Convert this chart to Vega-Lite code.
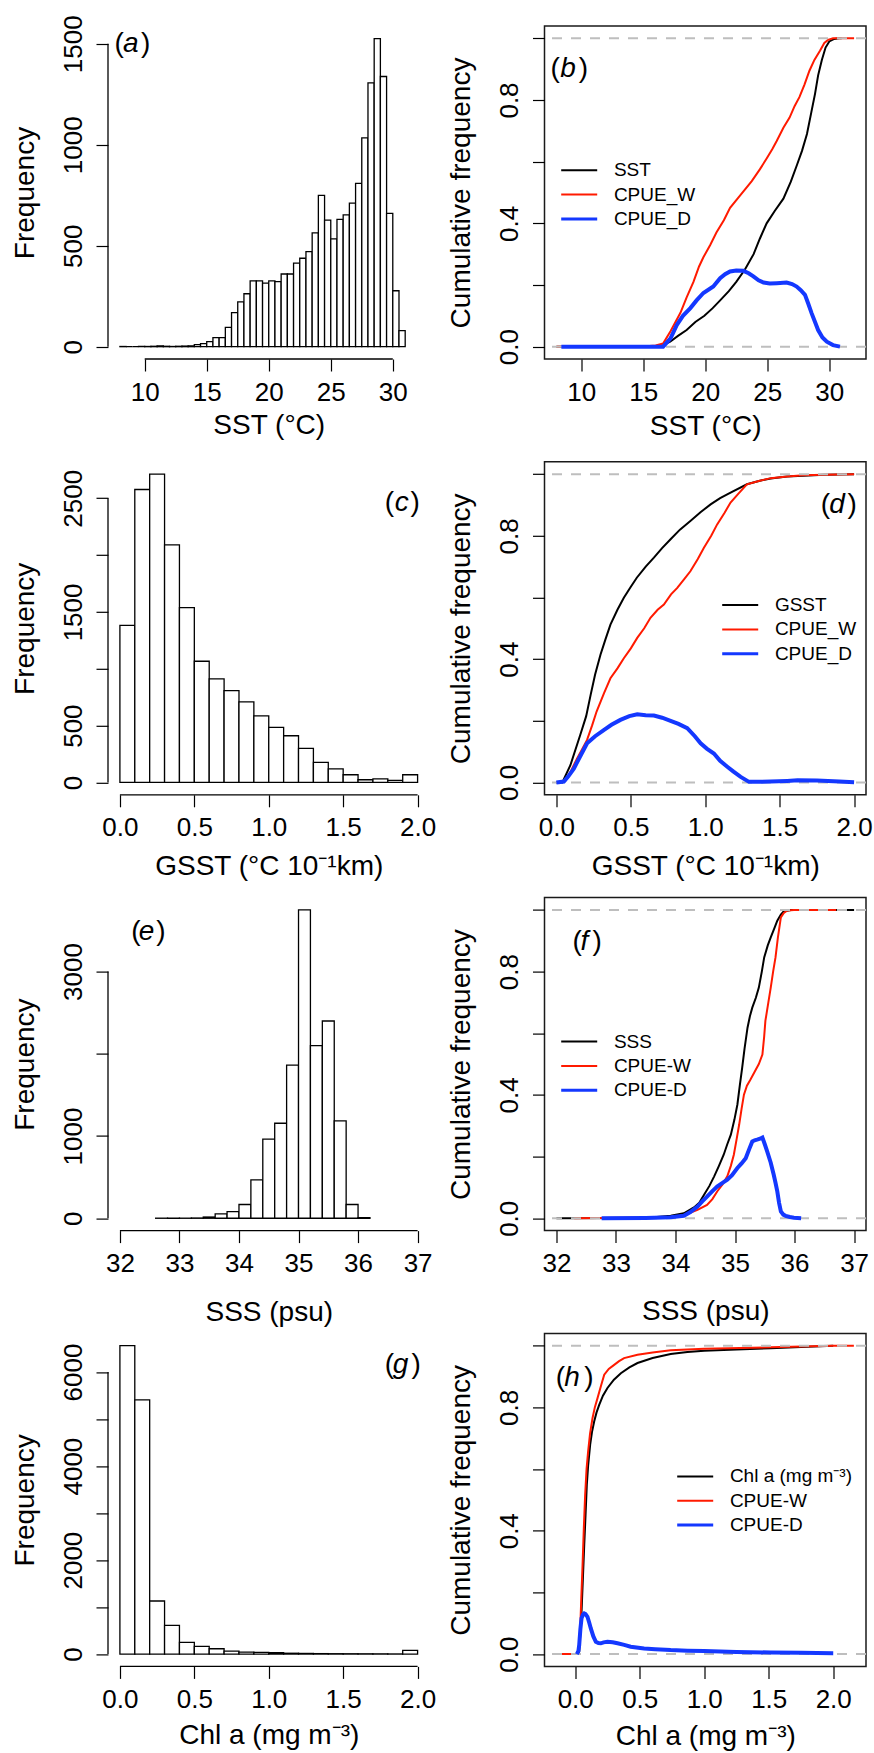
{
"$schema": "https://vega.github.io/schema/vega-lite/v6.json",
"background": "white",
"padding": {"left": 11, "top": 14, "right": 0, "bottom": 0},
"columns": 2,
"spacing": {"row": 102.8, "column": 114.5},
"bounds": "flush",
"resolve": {"scale": {"color": "independent", "x": "independent", "y": "independent"}, "legend": {"color": "independent"}, "axis": {"x": "independent", "y": "independent"}},
"config": {
 "view": {"stroke": null},
 "font": "Liberation Sans",
 "axis": {"domain": false, "grid": false, "tickColor": "#000", "tickSize": 12, "tickWidth": 1.2, "labelFont": "Liberation Sans", "labelFontSize": 26, "labelColor": "#000", "titleFont": "Liberation Sans", "titleFontSize": 28, "titleFontWeight": "normal", "titleColor": "#000", "labelOverlap": false, "labelFlush": false, "labelBound": false},
 "axisX": {"labelBaseline": "alphabetic", "labelPadding": 29, "titleBaseline": "alphabetic", "labelAngle": 0, "labelAlign": "center"},
 "axisY": {"labelAngle": 270, "labelAlign": "center", "labelBaseline": "alphabetic", "labelPadding": 15, "titleAngle": 270, "titleBaseline": "alphabetic", "titleX": -75, "titleAlign": "center"},
 "legend": {"orient": "none", "title": null, "symbolType": "M-3,0H3", "symbolSize": 144, "labelFont": "Liberation Sans", "labelFontSize": 19, "labelColor": "#000", "labelOffset": 25.2, "rowPadding": 4.3, "padding": 0, "symbolStrokeWidth": 2, "labelLimit": 400}
},
"datasets": {
 "histA": [
  {"lo":8.0,"hi":8.5,"n":1},{"lo":8.5,"hi":9.0,"n":0},{"lo":9.0,"hi":9.5,"n":0},{"lo":9.5,"hi":10.0,"n":1},{"lo":10.0,"hi":10.5,"n":1},{"lo":10.5,"hi":11.0,"n":2},{"lo":11.0,"hi":11.5,"n":4},{"lo":11.5,"hi":12.0,"n":2},{"lo":12.0,"hi":12.5,"n":1},{"lo":12.5,"hi":13.0,"n":2},{"lo":13.0,"hi":13.5,"n":3},{"lo":13.5,"hi":14.0,"n":4},{"lo":14.0,"hi":14.5,"n":10},{"lo":14.5,"hi":15.0,"n":15},{"lo":15.0,"hi":15.5,"n":25},{"lo":15.5,"hi":16.0,"n":45},{"lo":16.0,"hi":16.5,"n":45},{"lo":16.5,"hi":17.0,"n":96},{"lo":17.0,"hi":17.5,"n":169},{"lo":17.5,"hi":18.0,"n":222},{"lo":18.0,"hi":18.5,"n":262},{"lo":18.5,"hi":19.0,"n":326},{"lo":19.0,"hi":19.5,"n":326},{"lo":19.5,"hi":20.0,"n":315},{"lo":20.0,"hi":20.5,"n":326},{"lo":20.5,"hi":21.0,"n":322},{"lo":21.0,"hi":21.5,"n":360},{"lo":21.5,"hi":22.0,"n":360},{"lo":22.0,"hi":22.5,"n":414},{"lo":22.5,"hi":23.0,"n":438},{"lo":23.0,"hi":23.5,"n":471},{"lo":23.5,"hi":24.0,"n":564},{"lo":24.0,"hi":24.5,"n":749},{"lo":24.5,"hi":25.0,"n":627},{"lo":25.0,"hi":25.5,"n":534},{"lo":25.5,"hi":26.0,"n":630},{"lo":26.0,"hi":26.5,"n":653},{"lo":26.5,"hi":27.0,"n":711},{"lo":27.0,"hi":27.5,"n":809},{"lo":27.5,"hi":28.0,"n":1034},{"lo":28.0,"hi":28.5,"n":1306},{"lo":28.5,"hi":29.0,"n":1525},{"lo":29.0,"hi":29.5,"n":1338},{"lo":29.5,"hi":30.0,"n":660},{"lo":30.0,"hi":30.5,"n":277},{"lo":30.5,"hi":31.0,"n":80}
 ],
 "histC": [
  {"lo":0.0,"hi":0.1,"n":1381},{"lo":0.1,"hi":0.2,"n":2577},{"lo":0.2,"hi":0.3,"n":2712},{"lo":0.3,"hi":0.4,"n":2089},{"lo":0.4,"hi":0.5,"n":1537},{"lo":0.5,"hi":0.6,"n":1066},{"lo":0.6,"hi":0.7,"n":911},{"lo":0.7,"hi":0.8,"n":808},{"lo":0.8,"hi":0.9,"n":708},{"lo":0.9,"hi":1.0,"n":585},{"lo":1.0,"hi":1.1,"n":485},{"lo":1.1,"hi":1.2,"n":411},{"lo":1.2,"hi":1.3,"n":300},{"lo":1.3,"hi":1.4,"n":176},{"lo":1.4,"hi":1.5,"n":120},{"lo":1.5,"hi":1.6,"n":68},{"lo":1.6,"hi":1.7,"n":24},{"lo":1.7,"hi":1.8,"n":32},{"lo":1.8,"hi":1.9,"n":18},{"lo":1.9,"hi":2.0,"n":68}
 ],
 "histE": [
  {"lo":32.6,"hi":32.8,"n":1},{"lo":32.8,"hi":33.0,"n":1},{"lo":33.0,"hi":33.2,"n":1},{"lo":33.2,"hi":33.4,"n":3},{"lo":33.4,"hi":33.6,"n":15},{"lo":33.6,"hi":33.8,"n":53},{"lo":33.8,"hi":34.0,"n":81},{"lo":34.0,"hi":34.2,"n":167},{"lo":34.2,"hi":34.4,"n":467},{"lo":34.4,"hi":34.6,"n":963},{"lo":34.6,"hi":34.8,"n":1155},{"lo":34.8,"hi":35.0,"n":1862},{"lo":35.0,"hi":35.2,"n":3748},{"lo":35.2,"hi":35.4,"n":2098},{"lo":35.4,"hi":35.6,"n":2398},{"lo":35.6,"hi":35.8,"n":1183},{"lo":35.8,"hi":36.0,"n":167},{"lo":36.0,"hi":36.2,"n":8}
 ],
 "histG": [
  {"lo":0.0,"hi":0.1,"n":6561},{"lo":0.1,"hi":0.2,"n":5410},{"lo":0.2,"hi":0.3,"n":1129},{"lo":0.3,"hi":0.4,"n":611},{"lo":0.4,"hi":0.5,"n":250},{"lo":0.5,"hi":0.6,"n":163},{"lo":0.6,"hi":0.7,"n":114},{"lo":0.7,"hi":0.8,"n":64},{"lo":0.8,"hi":0.9,"n":43},{"lo":0.9,"hi":1.0,"n":36},{"lo":1.0,"hi":1.1,"n":28},{"lo":1.1,"hi":1.2,"n":18},{"lo":1.2,"hi":1.3,"n":14},{"lo":1.3,"hi":1.4,"n":10},{"lo":1.4,"hi":1.5,"n":8},{"lo":1.5,"hi":1.6,"n":7},{"lo":1.6,"hi":1.7,"n":6},{"lo":1.7,"hi":1.8,"n":5},{"lo":1.8,"hi":1.9,"n":3},{"lo":1.9,"hi":2.0,"n":78}
 ],
 "cdfB": [
  {"s":"SST","x":8.0,"y":0},{"s":"SST","x":16.0,"y":0},{"s":"SST","x":16.6,"y":0.005},{"s":"SST","x":17.17,"y":0.016},{"s":"SST","x":17.8,"y":0.035},{"s":"SST","x":18.5,"y":0.054},{"s":"SST","x":19.2,"y":0.08},{"s":"SST","x":19.93,"y":0.10},{"s":"SST","x":20.6,"y":0.125},{"s":"SST","x":21.2,"y":0.15},{"s":"SST","x":21.9,"y":0.18},{"s":"SST","x":22.5,"y":0.21},{"s":"SST","x":23.2,"y":0.25},{"s":"SST","x":23.9,"y":0.30},{"s":"SST","x":24.4,"y":0.35},{"s":"SST","x":24.95,"y":0.40},{"s":"SST","x":25.6,"y":0.44},{"s":"SST","x":26.3,"y":0.48},{"s":"SST","x":26.9,"y":0.535},{"s":"SST","x":27.4,"y":0.59},{"s":"SST","x":27.8,"y":0.635},{"s":"SST","x":28.2,"y":0.69},{"s":"SST","x":28.55,"y":0.76},{"s":"SST","x":28.85,"y":0.82},{"s":"SST","x":29.1,"y":0.88},{"s":"SST","x":29.4,"y":0.93},{"s":"SST","x":29.7,"y":0.97},{"s":"SST","x":30.0,"y":0.99},{"s":"SST","x":30.4,"y":0.998},{"s":"SST","x":30.8,"y":1.0},{"s":"SST","x":31.0,"y":1.0},
  {"s":"CPUE_W","x":8.0,"y":0},{"s":"CPUE_W","x":15.5,"y":0.002},{"s":"CPUE_W","x":16.0,"y":0.004},{"s":"CPUE_W","x":16.6,"y":0.01},{"s":"CPUE_W","x":17.2,"y":0.05},{"s":"CPUE_W","x":17.6,"y":0.08},{"s":"CPUE_W","x":18.0,"y":0.11},{"s":"CPUE_W","x":18.5,"y":0.16},{"s":"CPUE_W","x":19.05,"y":0.21},{"s":"CPUE_W","x":19.5,"y":0.26},{"s":"CPUE_W","x":19.85,"y":0.29},{"s":"CPUE_W","x":20.4,"y":0.33},{"s":"CPUE_W","x":20.9,"y":0.37},{"s":"CPUE_W","x":21.5,"y":0.41},{"s":"CPUE_W","x":22.0,"y":0.45},{"s":"CPUE_W","x":22.8,"y":0.49},{"s":"CPUE_W","x":23.75,"y":0.537},{"s":"CPUE_W","x":24.4,"y":0.575},{"s":"CPUE_W","x":24.95,"y":0.61},{"s":"CPUE_W","x":25.4,"y":0.64},{"s":"CPUE_W","x":25.76,"y":0.667},{"s":"CPUE_W","x":26.3,"y":0.71},{"s":"CPUE_W","x":26.8,"y":0.743},{"s":"CPUE_W","x":27.2,"y":0.78},{"s":"CPUE_W","x":27.6,"y":0.81},{"s":"CPUE_W","x":28.0,"y":0.85},{"s":"CPUE_W","x":28.4,"y":0.895},{"s":"CPUE_W","x":28.8,"y":0.93},{"s":"CPUE_W","x":29.25,"y":0.96},{"s":"CPUE_W","x":29.6,"y":0.985},{"s":"CPUE_W","x":29.9,"y":0.995},{"s":"CPUE_W","x":30.3,"y":1.0},{"s":"CPUE_W","x":32.0,"y":1.0},
  {"s":"CPUE_D","x":8.4,"y":0},{"s":"CPUE_D","x":16.6,"y":0},{"s":"CPUE_D","x":17.2,"y":0.027},{"s":"CPUE_D","x":17.7,"y":0.07},{"s":"CPUE_D","x":18.2,"y":0.10},{"s":"CPUE_D","x":18.8,"y":0.125},{"s":"CPUE_D","x":19.3,"y":0.15},{"s":"CPUE_D","x":19.85,"y":0.174},{"s":"CPUE_D","x":20.65,"y":0.195},{"s":"CPUE_D","x":21.2,"y":0.222},{"s":"CPUE_D","x":21.6,"y":0.235},{"s":"CPUE_D","x":22.0,"y":0.244},{"s":"CPUE_D","x":22.5,"y":0.247},{"s":"CPUE_D","x":23.07,"y":0.246},{"s":"CPUE_D","x":23.5,"y":0.238},{"s":"CPUE_D","x":23.88,"y":0.228},{"s":"CPUE_D","x":24.3,"y":0.215},{"s":"CPUE_D","x":24.7,"y":0.208},{"s":"CPUE_D","x":25.2,"y":0.205},{"s":"CPUE_D","x":25.76,"y":0.206},{"s":"CPUE_D","x":26.56,"y":0.208},{"s":"CPUE_D","x":27.0,"y":0.203},{"s":"CPUE_D","x":27.37,"y":0.195},{"s":"CPUE_D","x":27.7,"y":0.183},{"s":"CPUE_D","x":28.04,"y":0.168},{"s":"CPUE_D","x":28.3,"y":0.14},{"s":"CPUE_D","x":28.58,"y":0.108},{"s":"CPUE_D","x":28.85,"y":0.08},{"s":"CPUE_D","x":29.1,"y":0.054},{"s":"CPUE_D","x":29.45,"y":0.03},{"s":"CPUE_D","x":29.8,"y":0.016},{"s":"CPUE_D","x":30.3,"y":0.005},{"s":"CPUE_D","x":30.86,"y":0}
 ],
 "cdfD": [
  {"s":"GSST","x":0,"y":0},{"s":"GSST","x":0.04,"y":0.0},{"s":"GSST","x":0.094,"y":0.056},{"s":"GSST","x":0.16,"y":0.154},{"s":"GSST","x":0.2,"y":0.215},{"s":"GSST","x":0.23,"y":0.284},{"s":"GSST","x":0.26,"y":0.35},{"s":"GSST","x":0.296,"y":0.414},{"s":"GSST","x":0.33,"y":0.465},{"s":"GSST","x":0.363,"y":0.512},{"s":"GSST","x":0.41,"y":0.56},{"s":"GSST","x":0.453,"y":0.599},{"s":"GSST","x":0.5,"y":0.635},{"s":"GSST","x":0.54,"y":0.664},{"s":"GSST","x":0.6,"y":0.7},{"s":"GSST","x":0.655,"y":0.729},{"s":"GSST","x":0.71,"y":0.76},{"s":"GSST","x":0.767,"y":0.789},{"s":"GSST","x":0.83,"y":0.82},{"s":"GSST","x":0.9,"y":0.848},{"s":"GSST","x":0.97,"y":0.877},{"s":"GSST","x":1.036,"y":0.902},{"s":"GSST","x":1.1,"y":0.922},{"s":"GSST","x":1.17,"y":0.94},{"s":"GSST","x":1.28,"y":0.967},{"s":"GSST","x":1.36,"y":0.978},{"s":"GSST","x":1.44,"y":0.986},{"s":"GSST","x":1.55,"y":0.992},{"s":"GSST","x":1.66,"y":0.995},{"s":"GSST","x":1.8,"y":0.998},{"s":"GSST","x":2.0,"y":1.0},
  {"s":"CPUE_W","x":0,"y":0},{"s":"CPUE_W","x":0.06,"y":0.005},{"s":"CPUE_W","x":0.1,"y":0.04},{"s":"CPUE_W","x":0.139,"y":0.078},{"s":"CPUE_W","x":0.17,"y":0.105},{"s":"CPUE_W","x":0.206,"y":0.138},{"s":"CPUE_W","x":0.24,"y":0.185},{"s":"CPUE_W","x":0.27,"y":0.23},{"s":"CPUE_W","x":0.32,"y":0.29},{"s":"CPUE_W","x":0.363,"y":0.338},{"s":"CPUE_W","x":0.41,"y":0.37},{"s":"CPUE_W","x":0.453,"y":0.403},{"s":"CPUE_W","x":0.5,"y":0.435},{"s":"CPUE_W","x":0.543,"y":0.469},{"s":"CPUE_W","x":0.59,"y":0.5},{"s":"CPUE_W","x":0.632,"y":0.534},{"s":"CPUE_W","x":0.68,"y":0.56},{"s":"CPUE_W","x":0.722,"y":0.577},{"s":"CPUE_W","x":0.77,"y":0.61},{"s":"CPUE_W","x":0.812,"y":0.631},{"s":"CPUE_W","x":0.86,"y":0.66},{"s":"CPUE_W","x":0.9,"y":0.685},{"s":"CPUE_W","x":0.95,"y":0.725},{"s":"CPUE_W","x":0.991,"y":0.761},{"s":"CPUE_W","x":1.04,"y":0.8},{"s":"CPUE_W","x":1.08,"y":0.837},{"s":"CPUE_W","x":1.13,"y":0.875},{"s":"CPUE_W","x":1.17,"y":0.908},{"s":"CPUE_W","x":1.22,"y":0.935},{"s":"CPUE_W","x":1.28,"y":0.967},{"s":"CPUE_W","x":1.36,"y":0.978},{"s":"CPUE_W","x":1.44,"y":0.987},{"s":"CPUE_W","x":1.55,"y":0.992},{"s":"CPUE_W","x":1.66,"y":0.996},{"s":"CPUE_W","x":1.8,"y":0.998},{"s":"CPUE_W","x":2.0,"y":1.0},
  {"s":"CPUE_D","x":0,"y":0},{"s":"CPUE_D","x":0.05,"y":0.003},{"s":"CPUE_D","x":0.08,"y":0.02},{"s":"CPUE_D","x":0.117,"y":0.045},{"s":"CPUE_D","x":0.16,"y":0.085},{"s":"CPUE_D","x":0.206,"y":0.127},{"s":"CPUE_D","x":0.26,"y":0.15},{"s":"CPUE_D","x":0.318,"y":0.17},{"s":"CPUE_D","x":0.37,"y":0.187},{"s":"CPUE_D","x":0.43,"y":0.203},{"s":"CPUE_D","x":0.49,"y":0.215},{"s":"CPUE_D","x":0.543,"y":0.221},{"s":"CPUE_D","x":0.6,"y":0.218},{"s":"CPUE_D","x":0.655,"y":0.217},{"s":"CPUE_D","x":0.71,"y":0.21},{"s":"CPUE_D","x":0.767,"y":0.2},{"s":"CPUE_D","x":0.82,"y":0.19},{"s":"CPUE_D","x":0.879,"y":0.176},{"s":"CPUE_D","x":0.93,"y":0.15},{"s":"CPUE_D","x":0.969,"y":0.127},{"s":"CPUE_D","x":1.01,"y":0.11},{"s":"CPUE_D","x":1.058,"y":0.094},{"s":"CPUE_D","x":1.1,"y":0.07},{"s":"CPUE_D","x":1.148,"y":0.051},{"s":"CPUE_D","x":1.19,"y":0.035},{"s":"CPUE_D","x":1.238,"y":0.018},{"s":"CPUE_D","x":1.294,"y":0.002},{"s":"CPUE_D","x":1.35,"y":0.002},{"s":"CPUE_D","x":1.44,"y":0.003},{"s":"CPUE_D","x":1.55,"y":0.005},{"s":"CPUE_D","x":1.62,"y":0.007},{"s":"CPUE_D","x":1.75,"y":0.006},{"s":"CPUE_D","x":1.9,"y":0.003},{"s":"CPUE_D","x":2.0,"y":0.001}
 ],
 "cdfF": [
  {"s":"SSS","x":32.0,"y":0},{"s":"SSS","x":33.5,"y":0.001},{"s":"SSS","x":33.92,"y":0.008},{"s":"SSS","x":34.14,"y":0.016},{"s":"SSS","x":34.31,"y":0.035},{"s":"SSS","x":34.4,"y":0.05},{"s":"SSS","x":34.48,"y":0.076},{"s":"SSS","x":34.57,"y":0.105},{"s":"SSS","x":34.65,"y":0.136},{"s":"SSS","x":34.73,"y":0.17},{"s":"SSS","x":34.81,"y":0.206},{"s":"SSS","x":34.87,"y":0.24},{"s":"SSS","x":34.93,"y":0.271},{"s":"SSS","x":34.99,"y":0.32},{"s":"SSS","x":35.04,"y":0.369},{"s":"SSS","x":35.08,"y":0.43},{"s":"SSS","x":35.12,"y":0.488},{"s":"SSS","x":35.16,"y":0.55},{"s":"SSS","x":35.21,"y":0.618},{"s":"SSS","x":35.25,"y":0.655},{"s":"SSS","x":35.29,"y":0.683},{"s":"SSS","x":35.35,"y":0.715},{"s":"SSS","x":35.4,"y":0.748},{"s":"SSS","x":35.45,"y":0.8},{"s":"SSS","x":35.49,"y":0.846},{"s":"SSS","x":35.55,"y":0.885},{"s":"SSS","x":35.6,"y":0.911},{"s":"SSS","x":35.66,"y":0.94},{"s":"SSS","x":35.71,"y":0.965},{"s":"SSS","x":35.77,"y":0.985},{"s":"SSS","x":35.82,"y":0.996},{"s":"SSS","x":35.94,"y":1.0},{"s":"SSS","x":37.0,"y":1.0},
  {"s":"CPUE-W","x":32.3,"y":0},{"s":"CPUE-W","x":33.9,"y":0.003},{"s":"CPUE-W","x":34.14,"y":0.01},{"s":"CPUE-W","x":34.37,"y":0.027},{"s":"CPUE-W","x":34.53,"y":0.043},{"s":"CPUE-W","x":34.62,"y":0.062},{"s":"CPUE-W","x":34.7,"y":0.087},{"s":"CPUE-W","x":34.79,"y":0.11},{"s":"CPUE-W","x":34.87,"y":0.136},{"s":"CPUE-W","x":34.93,"y":0.17},{"s":"CPUE-W","x":34.98,"y":0.206},{"s":"CPUE-W","x":35.03,"y":0.26},{"s":"CPUE-W","x":35.07,"y":0.304},{"s":"CPUE-W","x":35.11,"y":0.355},{"s":"CPUE-W","x":35.15,"y":0.401},{"s":"CPUE-W","x":35.2,"y":0.43},{"s":"CPUE-W","x":35.26,"y":0.45},{"s":"CPUE-W","x":35.33,"y":0.475},{"s":"CPUE-W","x":35.4,"y":0.5},{"s":"CPUE-W","x":35.46,"y":0.531},{"s":"CPUE-W","x":35.49,"y":0.59},{"s":"CPUE-W","x":35.51,"y":0.64},{"s":"CPUE-W","x":35.56,"y":0.7},{"s":"CPUE-W","x":35.6,"y":0.748},{"s":"CPUE-W","x":35.64,"y":0.8},{"s":"CPUE-W","x":35.68,"y":0.846},{"s":"CPUE-W","x":35.72,"y":0.91},{"s":"CPUE-W","x":35.77,"y":0.976},{"s":"CPUE-W","x":35.82,"y":0.99},{"s":"CPUE-W","x":35.88,"y":0.998},{"s":"CPUE-W","x":35.99,"y":1.0},{"s":"CPUE-W","x":36.7,"y":1.0},
  {"s":"CPUE-D","x":32.76,"y":0},{"s":"CPUE-D","x":33.5,"y":0.001},{"s":"CPUE-D","x":33.92,"y":0.003},{"s":"CPUE-D","x":34.14,"y":0.008},{"s":"CPUE-D","x":34.25,"y":0.02},{"s":"CPUE-D","x":34.37,"y":0.038},{"s":"CPUE-D","x":34.45,"y":0.055},{"s":"CPUE-D","x":34.53,"y":0.07},{"s":"CPUE-D","x":34.62,"y":0.088},{"s":"CPUE-D","x":34.7,"y":0.103},{"s":"CPUE-D","x":34.79,"y":0.115},{"s":"CPUE-D","x":34.87,"y":0.125},{"s":"CPUE-D","x":34.95,"y":0.14},{"s":"CPUE-D","x":35.04,"y":0.163},{"s":"CPUE-D","x":35.11,"y":0.178},{"s":"CPUE-D","x":35.18,"y":0.195},{"s":"CPUE-D","x":35.24,"y":0.225},{"s":"CPUE-D","x":35.29,"y":0.249},{"s":"CPUE-D","x":35.33,"y":0.253},{"s":"CPUE-D","x":35.37,"y":0.255},{"s":"CPUE-D","x":35.42,"y":0.258},{"s":"CPUE-D","x":35.46,"y":0.262},{"s":"CPUE-D","x":35.5,"y":0.24},{"s":"CPUE-D","x":35.54,"y":0.217},{"s":"CPUE-D","x":35.6,"y":0.18},{"s":"CPUE-D","x":35.65,"y":0.141},{"s":"CPUE-D","x":35.68,"y":0.115},{"s":"CPUE-D","x":35.71,"y":0.087},{"s":"CPUE-D","x":35.74,"y":0.05},{"s":"CPUE-D","x":35.77,"y":0.022},{"s":"CPUE-D","x":35.81,"y":0.012},{"s":"CPUE-D","x":35.85,"y":0.008},{"s":"CPUE-D","x":35.92,"y":0.004},{"s":"CPUE-D","x":35.99,"y":0.002},{"s":"CPUE-D","x":36.11,"y":0}
 ],
 "cdfH": [
  {"s":"Chl a (mg m⁻³)","x":0.02,"y":0},{"s":"Chl a (mg m⁻³)","x":0.031,"y":0.008},{"s":"Chl a (mg m⁻³)","x":0.04,"y":0.07},{"s":"Chl a (mg m⁻³)","x":0.049,"y":0.137},{"s":"Chl a (mg m⁻³)","x":0.06,"y":0.25},{"s":"Chl a (mg m⁻³)","x":0.07,"y":0.354},{"s":"Chl a (mg m⁻³)","x":0.08,"y":0.45},{"s":"Chl a (mg m⁻³)","x":0.09,"y":0.549},{"s":"Chl a (mg m⁻³)","x":0.1,"y":0.61},{"s":"Chl a (mg m⁻³)","x":0.116,"y":0.679},{"s":"Chl a (mg m⁻³)","x":0.13,"y":0.72},{"s":"Chl a (mg m⁻³)","x":0.147,"y":0.754},{"s":"Chl a (mg m⁻³)","x":0.165,"y":0.783},{"s":"Chl a (mg m⁻³)","x":0.186,"y":0.808},{"s":"Chl a (mg m⁻³)","x":0.215,"y":0.838},{"s":"Chl a (mg m⁻³)","x":0.25,"y":0.863},{"s":"Chl a (mg m⁻³)","x":0.3,"y":0.89},{"s":"Chl a (mg m⁻³)","x":0.354,"y":0.911},{"s":"Chl a (mg m⁻³)","x":0.42,"y":0.93},{"s":"Chl a (mg m⁻³)","x":0.483,"y":0.944},{"s":"Chl a (mg m⁻³)","x":0.6,"y":0.96},{"s":"Chl a (mg m⁻³)","x":0.74,"y":0.973},{"s":"Chl a (mg m⁻³)","x":0.87,"y":0.98},{"s":"Chl a (mg m⁻³)","x":1.0,"y":0.984},{"s":"Chl a (mg m⁻³)","x":1.25,"y":0.988},{"s":"Chl a (mg m⁻³)","x":1.515,"y":0.992},{"s":"Chl a (mg m⁻³)","x":1.75,"y":0.996},{"s":"Chl a (mg m⁻³)","x":2.0,"y":1.0},
  {"s":"CPUE-W","x":-0.15,"y":0},{"s":"CPUE-W","x":0.018,"y":0},{"s":"CPUE-W","x":0.03,"y":0.03},{"s":"CPUE-W","x":0.039,"y":0.083},{"s":"CPUE-W","x":0.047,"y":0.18},{"s":"CPUE-W","x":0.057,"y":0.289},{"s":"CPUE-W","x":0.067,"y":0.41},{"s":"CPUE-W","x":0.077,"y":0.516},{"s":"CPUE-W","x":0.088,"y":0.6},{"s":"CPUE-W","x":0.1,"y":0.657},{"s":"CPUE-W","x":0.115,"y":0.715},{"s":"CPUE-W","x":0.134,"y":0.765},{"s":"CPUE-W","x":0.152,"y":0.8},{"s":"CPUE-W","x":0.173,"y":0.83},{"s":"CPUE-W","x":0.2,"y":0.87},{"s":"CPUE-W","x":0.225,"y":0.906},{"s":"CPUE-W","x":0.26,"y":0.925},{"s":"CPUE-W","x":0.302,"y":0.938},{"s":"CPUE-W","x":0.34,"y":0.95},{"s":"CPUE-W","x":0.379,"y":0.96},{"s":"CPUE-W","x":0.483,"y":0.971},{"s":"CPUE-W","x":0.6,"y":0.978},{"s":"CPUE-W","x":0.74,"y":0.985},{"s":"CPUE-W","x":1.0,"y":0.99},{"s":"CPUE-W","x":1.515,"y":0.995},{"s":"CPUE-W","x":2.0,"y":1.0},{"s":"CPUE-W","x":2.16,"y":1.0},
  {"s":"CPUE-D","x":0.013,"y":0},{"s":"CPUE-D","x":0.025,"y":0.01},{"s":"CPUE-D","x":0.031,"y":0.029},{"s":"CPUE-D","x":0.04,"y":0.08},{"s":"CPUE-D","x":0.049,"y":0.116},{"s":"CPUE-D","x":0.06,"y":0.128},{"s":"CPUE-D","x":0.07,"y":0.132},{"s":"CPUE-D","x":0.08,"y":0.13},{"s":"CPUE-D","x":0.095,"y":0.121},{"s":"CPUE-D","x":0.11,"y":0.1},{"s":"CPUE-D","x":0.121,"y":0.083},{"s":"CPUE-D","x":0.14,"y":0.058},{"s":"CPUE-D","x":0.16,"y":0.04},{"s":"CPUE-D","x":0.18,"y":0.036},{"s":"CPUE-D","x":0.199,"y":0.035},{"s":"CPUE-D","x":0.22,"y":0.038},{"s":"CPUE-D","x":0.25,"y":0.04},{"s":"CPUE-D","x":0.29,"y":0.038},{"s":"CPUE-D","x":0.328,"y":0.035},{"s":"CPUE-D","x":0.38,"y":0.03},{"s":"CPUE-D","x":0.43,"y":0.024},{"s":"CPUE-D","x":0.534,"y":0.018},{"s":"CPUE-D","x":0.62,"y":0.016},{"s":"CPUE-D","x":0.74,"y":0.013},{"s":"CPUE-D","x":0.87,"y":0.011},{"s":"CPUE-D","x":1.0,"y":0.01},{"s":"CPUE-D","x":1.25,"y":0.007},{"s":"CPUE-D","x":1.515,"y":0.005},{"s":"CPUE-D","x":1.75,"y":0.004},{"s":"CPUE-D","x":2.0,"y":0.003}
 ]
},
"concat": [
 {"width": 321.5, "height": 333, "layer": [
  {"data": {"name": "histA"}, "mark": {"type": "rect", "fill": "white", "stroke": "black", "strokeWidth": 1.3},
   "encoding": {
    "x": {"field": "lo", "type": "quantitative", "scale": {"domain": [7.04, 32.96], "nice": false, "zero": false}, "axis": {"values": [10,15,20,25,30], "format": "d", "title": "SST (°C)", "titleY": 74}},
    "x2": {"field": "hi"},
    "y": {"field": "n", "type": "quantitative", "scale": {"domain": [-61, 1588], "nice": false, "zero": false}, "axis": {"values": [0,500,1000,1500], "format": "d", "title": "Frequency"}},
    "y2": {"datum": 0}}},
  {"data": {"values": [{}]}, "mark": {"type": "rule", "stroke": "black", "strokeWidth": 1.3}, "encoding": {"x": {"datum": 10}, "x2": {"datum": 30}, "y": {"datum": -61}}},
  {"data": {"values": [{}]}, "mark": {"type": "rule", "stroke": "black", "strokeWidth": 1.3}, "encoding": {"y": {"datum": 0}, "y2": {"datum": 1500}, "x": {"datum": 7.04}}},
  {"data": {"values": [{}]}, "mark": {"type": "text", "text": "(", "align": "left", "baseline": "middle", "fontSize": 28, "font": "Liberation Sans"}, "encoding": {"x": {"datum": 7.56}, "y": {"datum": 1500}}},
  {"data": {"values": [{}]}, "mark": {"type": "text", "text": "a", "fontStyle": "italic", "dx": 8.5, "align": "left", "baseline": "middle", "fontSize": 28, "font": "Liberation Sans"}, "encoding": {"x": {"datum": 7.56}, "y": {"datum": 1500}}},
  {"data": {"values": [{}]}, "mark": {"type": "text", "text": ")", "dx": 26.5, "align": "left", "baseline": "middle", "fontSize": 28, "font": "Liberation Sans"}, "encoding": {"x": {"datum": 7.56}, "y": {"datum": 1500}}}
 ]},
 {"width": 321.5, "height": 333, "view": {"stroke": "#1a1a1a", "strokeWidth": 1.5}, "layer": [
  {"data": {"name": "cdfB"}, "transform": [{"filter": "datum.s == 'SST'"}], "mark": {"type": "line", "strokeWidth": 2},
   "encoding": {
    "x": {"field": "x", "type": "quantitative", "scale": {"domain": [7.04, 32.96], "nice": false, "zero": false}, "axis": {"values": [10,15,20,25,30], "format": "d", "title": "SST (°C)", "titleY": 75}},
    "y": {"field": "y", "type": "quantitative", "scale": {"domain": [-0.04, 1.04], "nice": false, "zero": false}, "axis": {"values": [0,0.2,0.4,0.6,0.8,1], "labelExpr": "datum.value == 0 || datum.value == 0.4 || datum.value == 0.8 ? format(datum.value, '.1f') : ''", "title": "Cumulative frequency"}},
    "color": {"field": "s", "type": "nominal", "scale": {"domain": ["SST","CPUE_W","CPUE_D"], "range": ["#000000","#ff1a00","#1438ff"]}, "legend": {"legendX": 25.2, "legendY": 134.8, "encode": {"symbols": {"update": {"strokeWidth": {"signal": "datum.value == 'CPUE_D' ? 3 : 2"}}}}}}}},
  {"data": {"name": "cdfB"}, "transform": [{"filter": "datum.s == 'CPUE_W'"}], "mark": {"type": "line", "strokeWidth": 2},
   "encoding": {"x": {"field": "x", "type": "quantitative"}, "y": {"field": "y", "type": "quantitative"},
    "color": {"field": "s", "type": "nominal", "scale": {"domain": ["SST","CPUE_W","CPUE_D"], "range": ["#000000","#ff1a00","#1438ff"]}, "legend": {"legendX": 25.2, "legendY": 134.8, "encode": {"symbols": {"update": {"strokeWidth": {"signal": "datum.value == 'CPUE_D' ? 3 : 2"}}}}}}}},
  {"data": {"values": [{}]}, "mark": {"type": "rule", "stroke": "#bebebe", "strokeWidth": 2, "strokeDash": [10, 9]}, "encoding": {"y": {"datum": 0}}},
  {"data": {"values": [{}]}, "mark": {"type": "rule", "stroke": "#bebebe", "strokeWidth": 2, "strokeDash": [10, 9]}, "encoding": {"y": {"datum": 1}}},
  {"data": {"name": "cdfB"}, "transform": [{"filter": "datum.s == 'CPUE_D'"}], "mark": {"type": "line", "strokeWidth": 4},
   "encoding": {"x": {"field": "x", "type": "quantitative"}, "y": {"field": "y", "type": "quantitative"},
    "color": {"field": "s", "type": "nominal", "scale": {"domain": ["SST","CPUE_W","CPUE_D"], "range": ["#000000","#ff1a00","#1438ff"]}, "legend": {"legendX": 25.2, "legendY": 134.8, "encode": {"symbols": {"update": {"strokeWidth": {"signal": "datum.value == 'CPUE_D' ? 3 : 2"}}}}}}}},
  {"data": {"values": [{}]}, "mark": {"type": "text", "text": "(", "align": "left", "baseline": "middle", "fontSize": 28, "font": "Liberation Sans"}, "encoding": {"x": {"datum": 7.52}, "y": {"datum": 0.9}}},
  {"data": {"values": [{}]}, "mark": {"type": "text", "text": "b", "fontStyle": "italic", "dx": 9.7, "align": "left", "baseline": "middle", "fontSize": 28, "font": "Liberation Sans"}, "encoding": {"x": {"datum": 7.52}, "y": {"datum": 0.9}}},
  {"data": {"values": [{}]}, "mark": {"type": "text", "text": ")", "dx": 28.4, "align": "left", "baseline": "middle", "fontSize": 28, "font": "Liberation Sans"}, "encoding": {"x": {"datum": 7.52}, "y": {"datum": 0.9}}}
 ]},
 {"width": 321.5, "height": 333, "layer": [
  {"data": {"name": "histC"}, "mark": {"type": "rect", "fill": "white", "stroke": "black", "strokeWidth": 1.3},
   "encoding": {
    "x": {"field": "lo", "type": "quantitative", "scale": {"domain": [-0.08, 2.08], "nice": false, "zero": false}, "axis": {"values": [0,0.5,1,1.5,2], "format": ".1f", "title": "GSST (°C 10⁻¹km)", "titleY": 80}},
    "x2": {"field": "hi"},
    "y": {"field": "n", "type": "quantitative", "scale": {"domain": [-108.5, 2820.5], "nice": false, "zero": false}, "axis": {"values": [0,500,1000,1500,2000,2500], "format": "d", "labelExpr": "datum.value == 1000 || datum.value == 2000 ? '' : datum.label", "title": "Frequency"}},
    "y2": {"datum": 0}}},
  {"data": {"values": [{}]}, "mark": {"type": "rule", "stroke": "black", "strokeWidth": 1.3}, "encoding": {"x": {"datum": 0}, "x2": {"datum": 2}, "y": {"datum": -108.5}}},
  {"data": {"values": [{}]}, "mark": {"type": "rule", "stroke": "black", "strokeWidth": 1.3}, "encoding": {"y": {"datum": 0}, "y2": {"datum": 2500}, "x": {"datum": -0.08}}},
  {"data": {"values": [{}]}, "mark": {"type": "text", "text": "(", "align": "left", "baseline": "middle", "fontSize": 28, "font": "Liberation Sans"}, "encoding": {"x": {"datum": 1.78}, "y": {"datum": 2460}}},
  {"data": {"values": [{}]}, "mark": {"type": "text", "text": "c", "fontStyle": "italic", "dx": 10, "align": "left", "baseline": "middle", "fontSize": 28, "font": "Liberation Sans"}, "encoding": {"x": {"datum": 1.78}, "y": {"datum": 2460}}},
  {"data": {"values": [{}]}, "mark": {"type": "text", "text": ")", "dx": 25.7, "align": "left", "baseline": "middle", "fontSize": 28, "font": "Liberation Sans"}, "encoding": {"x": {"datum": 1.78}, "y": {"datum": 2460}}}
 ]},
 {"width": 321.5, "height": 333, "view": {"stroke": "#1a1a1a", "strokeWidth": 1.5}, "layer": [
  {"data": {"name": "cdfD"}, "transform": [{"filter": "datum.s == 'GSST'"}], "mark": {"type": "line", "strokeWidth": 2},
   "encoding": {
    "x": {"field": "x", "type": "quantitative", "scale": {"domain": [-0.08, 2.08], "nice": false, "zero": false}, "axis": {"values": [0,0.5,1,1.5,2], "format": ".1f", "title": "GSST (°C 10⁻¹km)", "titleY": 80}},
    "y": {"field": "y", "type": "quantitative", "scale": {"domain": [-0.04, 1.04], "nice": false, "zero": false}, "axis": {"values": [0,0.2,0.4,0.6,0.8,1], "labelExpr": "datum.value == 0 || datum.value == 0.4 || datum.value == 0.8 ? format(datum.value, '.1f') : ''", "title": "Cumulative frequency"}},
    "color": {"field": "s", "type": "nominal", "scale": {"domain": ["GSST","CPUE_W","CPUE_D"], "range": ["#000000","#ff1a00","#1438ff"]}, "legend": {"legendX": 186.2, "legendY": 133.8, "encode": {"symbols": {"update": {"strokeWidth": {"signal": "datum.value == 'CPUE_D' ? 3 : 2"}}}}}}}},
  {"data": {"name": "cdfD"}, "transform": [{"filter": "datum.s == 'CPUE_W'"}], "mark": {"type": "line", "strokeWidth": 2},
   "encoding": {"x": {"field": "x", "type": "quantitative"}, "y": {"field": "y", "type": "quantitative"},
    "color": {"field": "s", "type": "nominal", "scale": {"domain": ["GSST","CPUE_W","CPUE_D"], "range": ["#000000","#ff1a00","#1438ff"]}, "legend": {"legendX": 186.2, "legendY": 133.8, "encode": {"symbols": {"update": {"strokeWidth": {"signal": "datum.value == 'CPUE_D' ? 3 : 2"}}}}}}}},
  {"data": {"values": [{}]}, "mark": {"type": "rule", "stroke": "#bebebe", "strokeWidth": 2, "strokeDash": [10, 9]}, "encoding": {"y": {"datum": 0}}},
  {"data": {"values": [{}]}, "mark": {"type": "rule", "stroke": "#bebebe", "strokeWidth": 2, "strokeDash": [10, 9]}, "encoding": {"y": {"datum": 1}}},
  {"data": {"name": "cdfD"}, "transform": [{"filter": "datum.s == 'CPUE_D'"}], "mark": {"type": "line", "strokeWidth": 4},
   "encoding": {"x": {"field": "x", "type": "quantitative"}, "y": {"field": "y", "type": "quantitative"},
    "color": {"field": "s", "type": "nominal", "scale": {"domain": ["GSST","CPUE_W","CPUE_D"], "range": ["#000000","#ff1a00","#1438ff"]}, "legend": {"legendX": 186.2, "legendY": 133.8, "encode": {"symbols": {"update": {"strokeWidth": {"signal": "datum.value == 'CPUE_D' ? 3 : 2"}}}}}}}},
  {"data": {"values": [{}]}, "mark": {"type": "text", "text": "(", "align": "left", "baseline": "middle", "fontSize": 28, "font": "Liberation Sans"}, "encoding": {"x": {"datum": 1.776}, "y": {"datum": 0.9}}},
  {"data": {"values": [{}]}, "mark": {"type": "text", "text": "d", "fontStyle": "italic", "dx": 8.4, "align": "left", "baseline": "middle", "fontSize": 28, "font": "Liberation Sans"}, "encoding": {"x": {"datum": 1.776}, "y": {"datum": 0.9}}},
  {"data": {"values": [{}]}, "mark": {"type": "text", "text": ")", "dx": 26.7, "align": "left", "baseline": "middle", "fontSize": 28, "font": "Liberation Sans"}, "encoding": {"x": {"datum": 1.776}, "y": {"datum": 0.9}}}
 ]},
 {"width": 321.5, "height": 333, "layer": [
  {"data": {"name": "histE"}, "mark": {"type": "rect", "fill": "white", "stroke": "black", "strokeWidth": 1.3},
   "encoding": {
    "x": {"field": "lo", "type": "quantitative", "scale": {"domain": [31.8, 37.2], "nice": false, "zero": false}, "axis": {"values": [32,33,34,35,36,37], "format": "d", "title": "SSS (psu)", "titleY": 90}},
    "x2": {"field": "hi"},
    "y": {"field": "n", "type": "quantitative", "scale": {"domain": [-150, 3898], "nice": false, "zero": false}, "axis": {"values": [0,1000,2000,3000], "format": "d", "labelExpr": "datum.value == 2000 ? '' : datum.label", "title": "Frequency"}},
    "y2": {"datum": 0}}},
  {"data": {"values": [{}]}, "mark": {"type": "rule", "stroke": "black", "strokeWidth": 1.3}, "encoding": {"x": {"datum": 32}, "x2": {"datum": 37}, "y": {"datum": -150}}},
  {"data": {"values": [{}]}, "mark": {"type": "rule", "stroke": "black", "strokeWidth": 1.3}, "encoding": {"y": {"datum": 0}, "y2": {"datum": 3000}, "x": {"datum": 31.8}}},
  {"data": {"values": [{}]}, "mark": {"type": "text", "text": "(", "align": "left", "baseline": "middle", "fontSize": 28, "font": "Liberation Sans"}, "encoding": {"x": {"datum": 32.19}, "y": {"datum": 3476}}},
  {"data": {"values": [{}]}, "mark": {"type": "text", "text": "e", "fontStyle": "italic", "dx": 7.6, "align": "left", "baseline": "middle", "fontSize": 28, "font": "Liberation Sans"}, "encoding": {"x": {"datum": 32.19}, "y": {"datum": 3476}}},
  {"data": {"values": [{}]}, "mark": {"type": "text", "text": ")", "dx": 25, "align": "left", "baseline": "middle", "fontSize": 28, "font": "Liberation Sans"}, "encoding": {"x": {"datum": 32.19}, "y": {"datum": 3476}}}
 ]},
 {"width": 321.5, "height": 333, "view": {"stroke": "#1a1a1a", "strokeWidth": 1.5}, "layer": [
  {"data": {"name": "cdfF"}, "transform": [{"filter": "datum.s == 'SSS'"}], "mark": {"type": "line", "strokeWidth": 2},
   "encoding": {
    "x": {"field": "x", "type": "quantitative", "scale": {"domain": [31.8, 37.2], "nice": false, "zero": false}, "axis": {"values": [32,33,34,35,36,37], "format": "d", "title": "SSS (psu)", "titleY": 89}},
    "y": {"field": "y", "type": "quantitative", "scale": {"domain": [-0.04, 1.04], "nice": false, "zero": false}, "axis": {"values": [0,0.2,0.4,0.6,0.8,1], "labelExpr": "datum.value == 0 || datum.value == 0.4 || datum.value == 0.8 ? format(datum.value, '.1f') : ''", "title": "Cumulative frequency"}},
    "color": {"field": "s", "type": "nominal", "scale": {"domain": ["SSS","CPUE-W","CPUE-D"], "range": ["#000000","#ff1a00","#1438ff"]}, "legend": {"legendX": 25.2, "legendY": 134.5, "encode": {"symbols": {"update": {"strokeWidth": {"signal": "datum.value == 'CPUE-D' ? 3 : 2"}}}}}}}},
  {"data": {"name": "cdfF"}, "transform": [{"filter": "datum.s == 'CPUE-W'"}], "mark": {"type": "line", "strokeWidth": 2},
   "encoding": {"x": {"field": "x", "type": "quantitative"}, "y": {"field": "y", "type": "quantitative"},
    "color": {"field": "s", "type": "nominal", "scale": {"domain": ["SSS","CPUE-W","CPUE-D"], "range": ["#000000","#ff1a00","#1438ff"]}, "legend": {"legendX": 25.2, "legendY": 134.5, "encode": {"symbols": {"update": {"strokeWidth": {"signal": "datum.value == 'CPUE-D' ? 3 : 2"}}}}}}}},
  {"data": {"values": [{}]}, "mark": {"type": "rule", "stroke": "#bebebe", "strokeWidth": 2, "strokeDash": [10, 9]}, "encoding": {"y": {"datum": 0}}},
  {"data": {"values": [{}]}, "mark": {"type": "rule", "stroke": "#bebebe", "strokeWidth": 2, "strokeDash": [10, 9]}, "encoding": {"y": {"datum": 1}}},
  {"data": {"name": "cdfF"}, "transform": [{"filter": "datum.s == 'CPUE-D'"}], "mark": {"type": "line", "strokeWidth": 4},
   "encoding": {"x": {"field": "x", "type": "quantitative"}, "y": {"field": "y", "type": "quantitative"},
    "color": {"field": "s", "type": "nominal", "scale": {"domain": ["SSS","CPUE-W","CPUE-D"], "range": ["#000000","#ff1a00","#1438ff"]}, "legend": {"legendX": 25.2, "legendY": 134.5, "encode": {"symbols": {"update": {"strokeWidth": {"signal": "datum.value == 'CPUE-D' ? 3 : 2"}}}}}}}},
  {"data": {"values": [{}]}, "mark": {"type": "text", "text": "(", "align": "left", "baseline": "middle", "fontSize": 28, "font": "Liberation Sans"}, "encoding": {"x": {"datum": 32.27}, "y": {"datum": 0.895}}},
  {"data": {"values": [{}]}, "mark": {"type": "text", "text": "f", "fontStyle": "italic", "dx": 8, "align": "left", "baseline": "middle", "fontSize": 28, "font": "Liberation Sans"}, "encoding": {"x": {"datum": 32.27}, "y": {"datum": 0.895}}},
  {"data": {"values": [{}]}, "mark": {"type": "text", "text": ")", "dx": 20, "align": "left", "baseline": "middle", "fontSize": 28, "font": "Liberation Sans"}, "encoding": {"x": {"datum": 32.27}, "y": {"datum": 0.895}}}
 ]},
 {"width": 321.5, "height": 333, "layer": [
  {"data": {"name": "histG"}, "mark": {"type": "rect", "fill": "white", "stroke": "black", "strokeWidth": 1.3},
   "encoding": {
    "x": {"field": "lo", "type": "quantitative", "scale": {"domain": [-0.08, 2.08], "nice": false, "zero": false}, "axis": {"values": [0,0.5,1,1.5,2], "format": ".1f", "title": "Chl a (mg m⁻³)", "titleY": 77}},
    "x2": {"field": "hi"},
    "y": {"field": "n", "type": "quantitative", "scale": {"domain": [-262, 6823], "nice": false, "zero": false}, "axis": {"values": [0,1000,2000,3000,4000,5000,6000], "format": "d", "labelExpr": "datum.value == 1000 || datum.value == 3000 || datum.value == 5000 ? '' : datum.label", "title": "Frequency"}},
    "y2": {"datum": 0}}},
  {"data": {"values": [{}]}, "mark": {"type": "rule", "stroke": "black", "strokeWidth": 1.3}, "encoding": {"x": {"datum": 0}, "x2": {"datum": 2}, "y": {"datum": -262}}},
  {"data": {"values": [{}]}, "mark": {"type": "rule", "stroke": "black", "strokeWidth": 1.3}, "encoding": {"y": {"datum": 0}, "y2": {"datum": 6000}, "x": {"datum": -0.08}}},
  {"data": {"values": [{}]}, "mark": {"type": "text", "text": "(", "align": "left", "baseline": "middle", "fontSize": 28, "font": "Liberation Sans"}, "encoding": {"x": {"datum": 1.78}, "y": {"datum": 6150}}},
  {"data": {"values": [{}]}, "mark": {"type": "text", "text": "g", "fontStyle": "italic", "dx": 8, "align": "left", "baseline": "middle", "fontSize": 28, "font": "Liberation Sans"}, "encoding": {"x": {"datum": 1.78}, "y": {"datum": 6150}}},
  {"data": {"values": [{}]}, "mark": {"type": "text", "text": ")", "dx": 26.7, "align": "left", "baseline": "middle", "fontSize": 28, "font": "Liberation Sans"}, "encoding": {"x": {"datum": 1.78}, "y": {"datum": 6150}}}
 ]},
 {"width": 321.5, "height": 333, "view": {"stroke": "#1a1a1a", "strokeWidth": 1.5}, "layer": [
  {"data": {"name": "cdfH"}, "transform": [{"filter": "datum.s == 'Chl a (mg m⁻³)'"}], "mark": {"type": "line", "strokeWidth": 2},
   "encoding": {
    "x": {"field": "x", "type": "quantitative", "scale": {"domain": [-0.238, 2.254], "nice": false, "zero": false}, "axis": {"values": [0,0.5,1,1.5,2], "format": ".1f", "title": "Chl a (mg m⁻³)", "titleY": 78}},
    "y": {"field": "y", "type": "quantitative", "scale": {"domain": [-0.04, 1.04], "nice": false, "zero": false}, "axis": {"values": [0,0.2,0.4,0.6,0.8,1], "labelExpr": "datum.value == 0 || datum.value == 0.4 || datum.value == 0.8 ? format(datum.value, '.1f') : ''", "title": "Cumulative frequency"}},
    "color": {"field": "s", "type": "nominal", "scale": {"domain": ["Chl a (mg m⁻³)","CPUE-W","CPUE-D"], "range": ["#000000","#ff1a00","#1438ff"]}, "legend": {"legendX": 141.2, "legendY": 133.5, "encode": {"symbols": {"update": {"strokeWidth": {"signal": "datum.value == 'CPUE-D' ? 3 : 2"}}}}}}}},
  {"data": {"name": "cdfH"}, "transform": [{"filter": "datum.s == 'CPUE-W'"}], "mark": {"type": "line", "strokeWidth": 2},
   "encoding": {"x": {"field": "x", "type": "quantitative"}, "y": {"field": "y", "type": "quantitative"},
    "color": {"field": "s", "type": "nominal", "scale": {"domain": ["Chl a (mg m⁻³)","CPUE-W","CPUE-D"], "range": ["#000000","#ff1a00","#1438ff"]}, "legend": {"legendX": 141.2, "legendY": 133.5, "encode": {"symbols": {"update": {"strokeWidth": {"signal": "datum.value == 'CPUE-D' ? 3 : 2"}}}}}}}},
  {"data": {"values": [{}]}, "mark": {"type": "rule", "stroke": "#bebebe", "strokeWidth": 2, "strokeDash": [10, 9]}, "encoding": {"y": {"datum": 0}}},
  {"data": {"values": [{}]}, "mark": {"type": "rule", "stroke": "#bebebe", "strokeWidth": 2, "strokeDash": [10, 9]}, "encoding": {"y": {"datum": 1}}},
  {"data": {"name": "cdfH"}, "transform": [{"filter": "datum.s == 'CPUE-D'"}], "mark": {"type": "line", "strokeWidth": 4},
   "encoding": {"x": {"field": "x", "type": "quantitative"}, "y": {"field": "y", "type": "quantitative"},
    "color": {"field": "s", "type": "nominal", "scale": {"domain": ["Chl a (mg m⁻³)","CPUE-W","CPUE-D"], "range": ["#000000","#ff1a00","#1438ff"]}, "legend": {"legendX": 141.2, "legendY": 133.5, "encode": {"symbols": {"update": {"strokeWidth": {"signal": "datum.value == 'CPUE-D' ? 3 : 2"}}}}}}}},
  {"data": {"values": [{}]}, "mark": {"type": "text", "text": "(", "align": "left", "baseline": "middle", "fontSize": 28, "font": "Liberation Sans"}, "encoding": {"x": {"datum": -0.15}, "y": {"datum": 0.895}}},
  {"data": {"values": [{}]}, "mark": {"type": "text", "text": "h", "fontStyle": "italic", "dx": 8.4, "align": "left", "baseline": "middle", "fontSize": 28, "font": "Liberation Sans"}, "encoding": {"x": {"datum": -0.15}, "y": {"datum": 0.895}}},
  {"data": {"values": [{}]}, "mark": {"type": "text", "text": ")", "dx": 28.4, "align": "left", "baseline": "middle", "fontSize": 28, "font": "Liberation Sans"}, "encoding": {"x": {"datum": -0.15}, "y": {"datum": 0.895}}}
 ]}
]
}
